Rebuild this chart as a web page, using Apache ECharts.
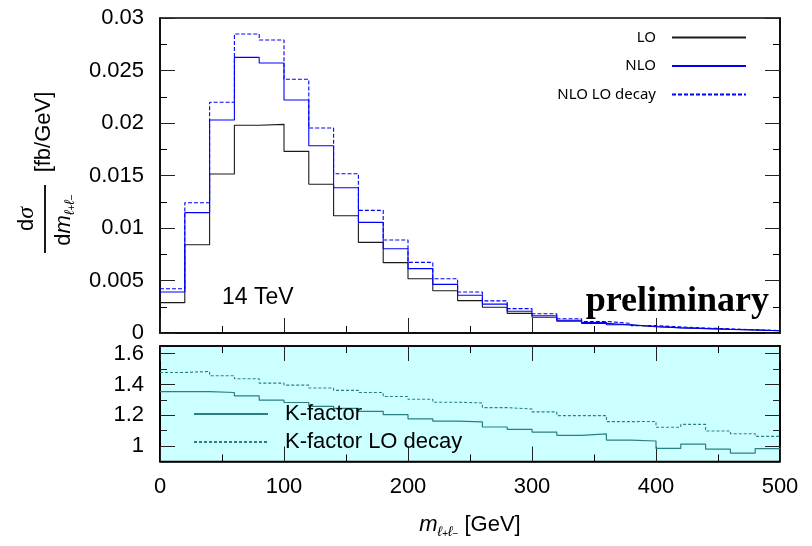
<!DOCTYPE html>
<html>
<head>
<meta charset="utf-8">
<script src="https://cdn.jsdelivr.net/npm/echarts@6/dist/echarts.min.js"></script>
<style>
  html, body { margin: 0; padding: 0; background: #ffffff; }
  #chart { width: 812px; height: 546px; }
</style>
</head>
<body>
<div id="chart"></div>
<script>
// Bin edges of the dilepton invariant-mass histogram (GeV)
const binEdges = [0, 20, 40, 60, 80, 100, 120, 140, 160, 180, 200, 220, 240,
                  260, 280, 300, 320, 340, 360, 380, 400, 420, 440, 460, 480, 500];

// dσ/dm per bin (fb/GeV)
const sigmaLO = [0.00289, 0.00840, 0.01514, 0.01978, 0.01987, 0.01730, 0.01416, 0.01117,
                 0.00863, 0.00670, 0.00517, 0.00403, 0.00308, 0.00245, 0.00187, 0.00150,
                 0.00113, 0.00092, 0.00076, 0.00060, 0.00050, 0.00042, 0.00035, 0.00029, 0.00022];
const sigmaNLO = [0.00390, 0.01146, 0.02029, 0.02625, 0.02571, 0.02219, 0.01784, 0.01384,
                  0.01054, 0.00803, 0.00613, 0.00463, 0.00359, 0.00275, 0.00207, 0.00164,
                  0.00121, 0.00099, 0.00079, 0.00062, 0.00049, 0.00043, 0.00034, 0.00028, 0.00022];
const sigmaNLOLOdecay = [0.00422, 0.01241, 0.02197, 0.02848, 0.02790, 0.02416, 0.01952, 0.01517,
                         0.01168, 0.00886, 0.00673, 0.00517, 0.00390, 0.00306, 0.00232, 0.00183,
                         0.00136, 0.00110, 0.00091, 0.00070, 0.00058, 0.00047, 0.00040, 0.00031, 0.00023];

// Ratios to LO per bin
const kFactor = [1.354, 1.354, 1.348, 1.326, 1.298, 1.283, 1.258, 1.245, 1.226, 1.205, 1.177, 1.162,
                 1.157, 1.124, 1.109, 1.091, 1.070, 1.080, 1.039, 1.033, 0.985, 1.013, 0.980, 0.954, 0.983];
const kFactorLOdecay = [1.478, 1.485, 1.457, 1.437, 1.409, 1.396, 1.377, 1.362, 1.348, 1.322, 1.304, 1.285,
                        1.280, 1.250, 1.241, 1.222, 1.198, 1.198, 1.159, 1.160, 1.122, 1.141, 1.098, 1.080, 1.063];

// Axis ticks
const xTickLabels = [0, 100, 200, 300, 400, 500];
const kMajorTicks = [1, 1.2, 1.4, 1.6];
const kMinorTicks = [1.1, 1.3, 1.5];

// Turn per-bin values into step-line points: one point per left edge, plus the closing edge
function histSteps(values) {
  return binEdges.map((x, i) => [x, values[Math.min(i, values.length - 1)]]);
}

const SANS = "'Liberation Sans', 'DejaVu Sans', sans-serif";
const TEAL = '#2a8080';

// Panel rectangles; every extra frame side gets its own overlaid grid with one x and one y axis
const TOP = { left: 160, top: 18, width: 620, height: 315 };
const BOTTOM = { left: 160, top: 346, width: 620, height: 115.5 };

function gridAt(rect, extra) {
  return Object.assign({ outerBoundsMode: 'none' }, rect, extra || {});
}

function frame() {
  return { show: true, onZero: false, lineStyle: { color: '#000', width: 1.5 } };
}
function ticks(len, values) {
  const t = { show: true, inside: true, length: len, lineStyle: { color: '#222', width: 1 } };
  if (values) t.customValues = values;
  return t;
}
function tickLabel() {
  return { show: true, fontFamily: SANS, fontSize: 22, color: '#000', margin: 16 };
}

function massAxis(gridIndex, extra) {
  return Object.assign({
    type: 'value',
    gridIndex: gridIndex,
    min: xTickLabels[0],
    max: xTickLabels[xTickLabels.length - 1],
    interval: 100,
    axisLine: frame(),
    axisTick: ticks(15),
    minorTick: { show: true, splitNumber: 2, length: 7 },
    axisLabel: { show: false },
    splitLine: { show: false }
  }, extra || {});
}
function hiddenMassAxis(gridIndex) {
  return { type: 'value', gridIndex: gridIndex, show: false,
           min: xTickLabels[0], max: xTickLabels[xTickLabels.length - 1] };
}

function sigmaAxis(gridIndex, extra) {
  return Object.assign({
    type: 'value',
    gridIndex: gridIndex,
    min: 0,
    max: 0.03,
    interval: 0.005,
    axisLine: frame(),
    axisTick: ticks(15),
    minorTick: { show: true, splitNumber: 2, length: 7 },
    axisLabel: { show: false },
    splitLine: { show: false }
  }, extra || {});
}

function kAxis(gridIndex, values, len, extra) {
  return Object.assign({
    type: 'value',
    gridIndex: gridIndex,
    min: 0.9,
    max: 1.65,
    axisLine: frame(),
    axisTick: ticks(len, values),
    axisLabel: { show: false },
    splitLine: { show: false }
  }, extra || {});
}

const chart = echarts.init(document.getElementById('chart'));

const option = {
  animation: false,
  grid: [
    gridAt(TOP, { show: true, borderColor: '#000', borderWidth: 1.5, backgroundColor: 'transparent' }), // 0
    gridAt(TOP),                                                                                        // 1
    gridAt(BOTTOM, { show: true, borderColor: '#000', borderWidth: 1.5, backgroundColor: '#ccffff' }),  // 2
    gridAt(BOTTOM),                                                                                     // 3
    gridAt(BOTTOM),                                                                                     // 4
    gridAt(BOTTOM)                                                                                      // 5
  ],
  legend: [
    {
      data: ['LO', 'NLO', 'NLO LO decay'],
      orient: 'vertical',
      align: 'right',
      right: 65,
      top: 30,
      padding: 0,
      itemWidth: 74,
      itemHeight: 14,
      itemGap: 13.5,
      selectedMode: false,
      itemStyle: { opacity: 0 },
      textStyle: { fontFamily: "'Noto Sans', sans-serif", fontSize: 15, color: '#000', padding: [0, 11, 0, 0] }
    },
    {
      data: ['K-factor', 'K-factor LO decay'],
      orient: 'vertical',
      align: 'left',
      left: 193,
      top: 403,
      padding: 0,
      itemWidth: 74,
      itemHeight: 14,
      itemGap: 6,
      selectedMode: false,
      itemStyle: { opacity: 0 },
      textStyle: { fontFamily: SANS, fontSize: 22, color: '#000', padding: [0, 0, 0, 12] }
    }
  ],
  xAxis: [
    massAxis(0),
    hiddenMassAxis(1),
    massAxis(2, {
      axisLabel: { show: true, fontFamily: SANS, fontSize: 22, color: '#000', margin: 14 },
      name: '{m|m}{s|ℓ}{p|+}{s|ℓ}{p|−}{u| [GeV]}',
      nameLocation: 'middle',
      nameGap: 48,
      nameTextStyle: {
        color: '#000',
        rich: {
          m: { fontFamily: SANS, fontStyle: 'italic', fontSize: 22, lineHeight: 30, color: '#000' },
          s: { fontFamily: SANS, fontStyle: 'italic', fontSize: 14, lineHeight: 16, verticalAlign: 'bottom', color: '#000' },
          p: { fontFamily: SANS, fontSize: 10, lineHeight: 26, verticalAlign: 'bottom', color: '#000' },
          u: { fontFamily: SANS, fontSize: 22, lineHeight: 30, color: '#000' }
        }
      }
    }),
    massAxis(3, { position: 'top' }),
    hiddenMassAxis(4),
    hiddenMassAxis(5)
  ],
  yAxis: [
    sigmaAxis(0, { axisLabel: tickLabel() }),
    sigmaAxis(1, { position: 'right' }),
    kAxis(2, kMajorTicks, 15, { axisLabel: Object.assign(tickLabel(), { customValues: kMajorTicks }) }),
    kAxis(3, kMinorTicks, 7),
    kAxis(4, kMajorTicks, 15, { position: 'right' }),
    kAxis(5, kMinorTicks, 7, { position: 'right' })
  ],
  series: [
    {
      name: 'LO', type: 'line', step: 'end', xAxisIndex: 0, yAxisIndex: 0,
      data: histSteps(sigmaLO), symbol: 'none', showSymbol: false,
      color: '#1a1a1a', lineStyle: { color: '#1a1a1a', width: 1.1 }
    },
    {
      name: 'NLO LO decay', type: 'line', step: 'end', xAxisIndex: 0, yAxisIndex: 0,
      data: histSteps(sigmaNLOLOdecay), symbol: 'none', showSymbol: false,
      color: '#0000ff', lineStyle: { color: '#0000ff', width: 1.1, type: [4, 2] }
    },
    {
      name: 'NLO', type: 'line', step: 'end', xAxisIndex: 0, yAxisIndex: 0,
      data: histSteps(sigmaNLO), symbol: 'none', showSymbol: false,
      color: '#0000ff', lineStyle: { color: '#0000ff', width: 1.1 }
    },
    {
      name: 'K-factor', type: 'line', step: 'end', xAxisIndex: 2, yAxisIndex: 2,
      data: histSteps(kFactor), symbol: 'none', showSymbol: false,
      color: TEAL, lineStyle: { color: TEAL, width: 1.2 }
    },
    {
      name: 'K-factor LO decay', type: 'line', step: 'end', xAxisIndex: 2, yAxisIndex: 2,
      data: histSteps(kFactorLOdecay), symbol: 'none', showSymbol: false,
      color: TEAL, lineStyle: { color: TEAL, width: 1.1, type: [3, 2] }
    }
  ],
  graphic: [
    // vertical axis title: dσ / dm_{ℓ+ℓ−} [fb/GeV]
    {
      type: 'text', x: 44, y: 132, rotation: Math.PI / 2, z: 10,
      style: { text: '[fb/GeV]', font: "22px " + SANS, fill: '#000',
               align: 'center', verticalAlign: 'middle', textAlign: 'center', textVerticalAlign: 'middle' }
    },
    {
      type: 'line', z: 10,
      shape: { x1: 45, y1: 185, x2: 45, y2: 253 },
      style: { stroke: '#000', lineWidth: 1.8 }
    },
    {
      type: 'text', x: 27, y: 219, rotation: Math.PI / 2, z: 10,
      style: {
        text: '{d|d}{g|σ}',
        align: 'center', verticalAlign: 'middle', textAlign: 'center', textVerticalAlign: 'middle',
        rich: {
          d: { fontFamily: SANS, fontSize: 22, fill: '#000', lineHeight: 26 },
          g: { fontFamily: "'Liberation Serif', serif", fontStyle: 'italic', fontSize: 24, fill: '#000', lineHeight: 26 }
        }
      }
    },
    {
      type: 'text', x: 64, y: 220, rotation: Math.PI / 2, z: 10,
      style: {
        text: '{d|d}{m|m}{s|ℓ}{p|+}{s|ℓ}{p|−}',
        align: 'center', verticalAlign: 'middle', textAlign: 'center', textVerticalAlign: 'middle',
        rich: {
          d: { fontFamily: SANS, fontSize: 22, fill: '#000', lineHeight: 26 },
          m: { fontFamily: SANS, fontStyle: 'italic', fontSize: 22, fill: '#000', lineHeight: 26 },
          s: { fontFamily: SANS, fontStyle: 'italic', fontSize: 14, fill: '#000', lineHeight: 12, verticalAlign: 'bottom' },
          p: { fontFamily: SANS, fontSize: 10, fill: '#000', lineHeight: 20, verticalAlign: 'bottom' }
        }
      }
    },
    // centre-of-mass energy
    {
      type: 'text', x: 222, y: 298, z: 10,
      style: { text: '14 TeV', font: "23px " + SANS, fill: '#000',
               align: 'left', verticalAlign: 'middle', textAlign: 'left', textVerticalAlign: 'middle' }
    },
    // status stamp
    {
      type: 'text', x: 769, y: 302, z: 10,
      style: { text: 'preliminary', font: "bold 36px 'Liberation Serif', serif", fill: '#000',
               align: 'right', verticalAlign: 'middle', textAlign: 'right', textVerticalAlign: 'middle' }
    }
  ]
};

chart.setOption(option);
</script>
</body>
</html>
